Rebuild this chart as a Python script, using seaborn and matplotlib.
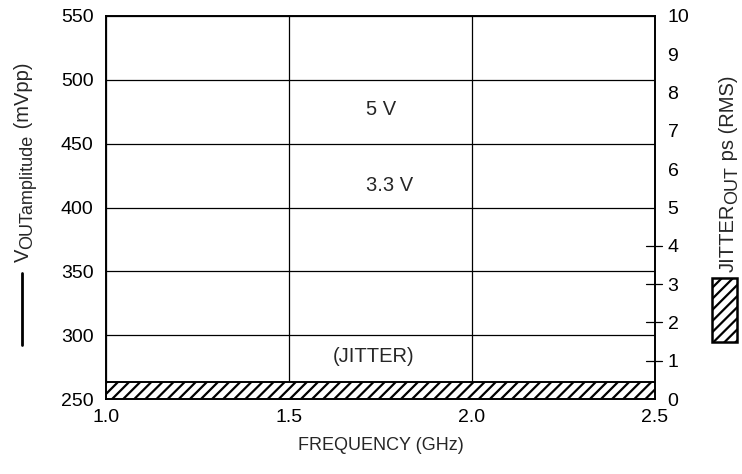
import matplotlib
matplotlib.use("Agg")
import matplotlib.pyplot as plt
import seaborn as sns
import pandas as pd
from matplotlib.patches import Rectangle
from matplotlib.lines import Line2D

# data
frequency_ghz = [1.0, 1.5, 2.0, 2.5]
jitter_ps = [0.45, 0.45, 0.45, 0.45]
curve_labels = ["5 V", "3.3 V", "(JITTER)"]
label_x = [1.751, 1.776, 1.732]
label_vout = [476.4, 417.6, 283.0]
x_ticks = [1.0, 1.5, 2.0, 2.5]
left_ticks = [250, 300, 350, 400, 450, 500, 550]
right_ticks = list(range(0, 11))

sns.set_style("white")
plt.rcParams['font.family'] = ['Liberation Sans', 'DejaVu Sans']
plt.rcParams['hatch.linewidth'] = 1.6

W, H = 742, 474
TS = 14
LS = 14.5
SUB = 13

fig = plt.figure(figsize=(W/100, H/100), dpi=100)
ax = fig.add_axes([106/W, 1-399/H, 549/W, 383/H])
ax2 = ax.twinx()

ax.set_xlim(1.0, 2.5)
ax.set_ylim(250, 550)
ax2.set_ylim(0, 10)
ax.set_xticks(x_ticks)
ax.set_xticklabels([f"{v:.1f}" for v in x_ticks])
ax.set_yticks(left_ticks)
ax.grid(True, color='black', linewidth=0.9)
ax.tick_params(axis='y', length=0, labelsize=TS, pad=9, colors='black')
ax.tick_params(axis='x', length=0, labelsize=TS, pad=7, colors='black')

df = pd.DataFrame({"freq": frequency_ghz, "jitter": jitter_ps})
sns.lineplot(data=df, x="freq", y="jitter", ax=ax2, color='black', linewidth=1.2)
ax2.fill_between(df["freq"], 0, df["jitter"], facecolor='white', edgecolor='black',
                 hatch='///', linewidth=1.2)
ax2.set_xlim(1.0, 2.5)
ax2.set_ylim(0, 10)
ax2.set_yticks(right_ticks)
ax2.set_xlabel("")
ax2.set_ylabel("")
ax2.tick_params(axis='y', length=0, labelsize=TS, pad=9, colors='black')
# crossing tick marks at 1..4
for v in [1, 2, 3, 4]:
    ax2.plot([2.475, 2.52], [v, v], color='black', linewidth=0.9, clip_on=False)

for a in (ax, ax2):
    for s in a.spines.values():
        s.set_color('black')
        s.set_linewidth(1.2)

for t, x, y in zip(curve_labels, label_x, label_vout):
    ax.text(x, y, t, ha='center', va='center', fontsize=LS)

ax.set_xlabel("FREQUENCY (GHz)", fontsize=13, labelpad=8)

renderer = fig.canvas.get_renderer()


def rot_label(parts, x_base, y_bottom):
    """parts: (text, size, dx) ; x_base = baseline x in px, y_bottom = px from top"""
    yb = H - y_bottom
    for text, size, dx in parts:
        t = fig.text((x_base + dx) / W, yb / H, text, rotation=90, rotation_mode='anchor',
                     ha='left', va='baseline', fontsize=size)
        bb = t.get_window_extent(renderer)
        yb += bb.height


rot_label([("V", LS, 0), ("OUTamplitude", SUB, 3), (" (mVpp)", LS, 0)], 29, 262)
fig.add_artist(Line2D([22/W, 22/W], [1-273/H, 1-345/H], color='black', linewidth=2.0))

rot_label([("JITTER", LS, 0), ("OUT", SUB, 3), (" ps (RMS)", LS, 0)], 734, 272)
fig.add_artist(Rectangle((712/W, 1-342/H), 25/W, 64/H, transform=fig.transFigure,
                         facecolor='white', edgecolor='black', hatch='///', linewidth=1.8))

fig.savefig("out.png", dpi=100)
